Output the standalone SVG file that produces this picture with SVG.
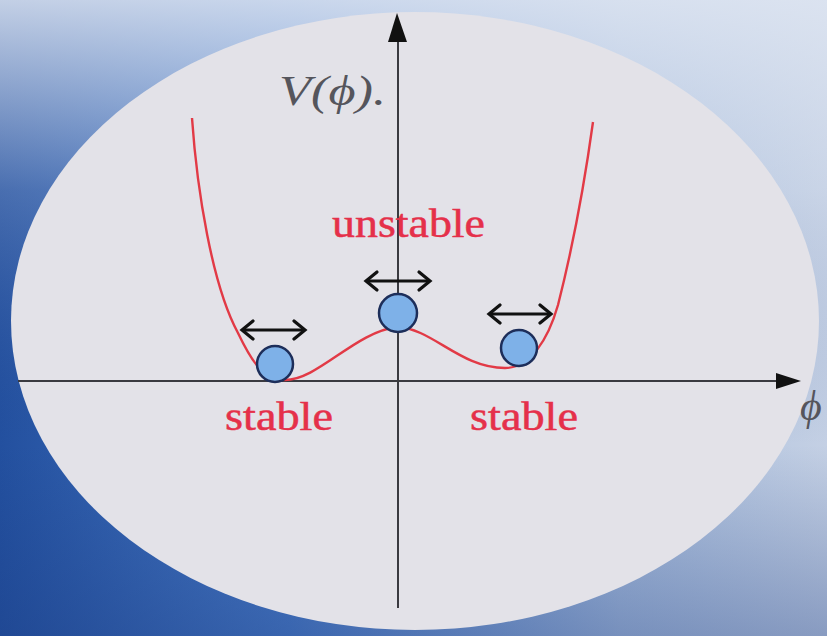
<svg xmlns="http://www.w3.org/2000/svg" width="827" height="636" viewBox="0 0 827 636">
  <defs>
    <linearGradient id="bg" x1="0" y1="0" x2="1" y2="0">
      <stop offset="0" stop-color="#23509f"/>
      <stop offset="0.35" stop-color="#4a7cc8"/>
      <stop offset="0.75" stop-color="#a9bedd"/>
      <stop offset="1" stop-color="#c4d0e4"/>
    </linearGradient>
    <linearGradient id="bgv" x1="0" y1="0" x2="0" y2="1">
      <stop offset="0" stop-color="#dfe6f2" stop-opacity="0.85"/>
      <stop offset="0.3" stop-color="#dfe6f2" stop-opacity="0.2"/>
      <stop offset="0.7" stop-color="#1a3a80" stop-opacity="0"/>
      <stop offset="1" stop-color="#1a3a80" stop-opacity="0.35"/>
    </linearGradient>
    <style>
      .axis { stroke: #3a3a40; stroke-width: 2; fill: none; }
      .curve { stroke: #e23a46; stroke-width: 2.4; fill: none; }
      .ball { fill: #7eb1e8; stroke: #1d2e5a; stroke-width: 2.5; }
      .dbl { stroke: #111; stroke-width: 3.2; fill: none; }
      .head { fill: none; stroke: #111; stroke-width: 3.2; stroke-linecap: round; stroke-linejoin: miter; }
      .lbl { font-family: "Liberation Serif", "Times New Roman", serif; fill: #e5304a; stroke: #e5304a; stroke-width: 0.5; font-size: 40px; }
      .math { font-family: "Liberation Serif", "Times New Roman", serif; font-style: italic; fill: #55555c; font-size: 42px; }
    </style>
  </defs>

  <rect width="827" height="636" fill="url(#bg)"/>
  <rect width="827" height="636" fill="url(#bgv)"/>
  <ellipse cx="415" cy="321" rx="404" ry="309" fill="#e3e2e8"/>

  <g id="axes">
    <line class="axis" x1="18" y1="381" x2="780" y2="381"/>
    <polygon points="776,373 801,381 776,389" fill="#111"/>
    <line class="axis" x1="398" y1="608" x2="398" y2="38"/>
    <polygon points="388,42 397,13 407,42" fill="#111"/>
  </g>

  <g id="labels-axes">
    <text class="math" x="279" y="105" textLength="107" lengthAdjust="spacingAndGlyphs">V(ϕ).</text>
    <text class="math" x="800" y="420" font-size="40">ϕ</text>
  </g>

  <g id="potential">
    <path class="curve" d="M192,118 C197,190 212,285 238,333 C250,358 262,380 285,380 C318,380 355,332 397,327 C432,328 460,368 505,368 C530,368 548,340 558,305 C572,250 585,180 593,122"/>
  </g>

  <g id="ball-left">
    <circle class="ball" cx="275" cy="364" r="18"/>
  </g>
  <g id="ball-center">
    <circle class="ball" cx="398" cy="313" r="19"/>
  </g>
  <g id="ball-right">
    <circle class="ball" cx="519" cy="348" r="18"/>
  </g>

  <g id="connectors">
    <g id="arrow-left">
      <line class="dbl" x1="242" y1="330" x2="305" y2="330"/>
      <path class="head" d="M253,321 L242,330 L253,339 M294,321 L305,330 L294,339"/>
    </g>
    <g id="arrow-center">
      <line class="dbl" x1="366" y1="281" x2="430" y2="281"/>
      <path class="head" d="M377,272 L366,281 L377,290 M419,272 L430,281 L419,290"/>
    </g>
    <g id="arrow-right">
      <line class="dbl" x1="489" y1="314" x2="551" y2="314"/>
      <path class="head" d="M500,305 L489,314 L500,323 M540,305 L551,314 L540,323"/>
    </g>
  </g>

  <g id="text-labels">
    <text class="lbl" x="332" y="237" textLength="153" lengthAdjust="spacingAndGlyphs">unstable</text>
    <text class="lbl" x="225" y="430" textLength="108" lengthAdjust="spacingAndGlyphs">stable</text>
    <text class="lbl" x="470" y="430" textLength="108" lengthAdjust="spacingAndGlyphs">stable</text>
  </g>
</svg>
